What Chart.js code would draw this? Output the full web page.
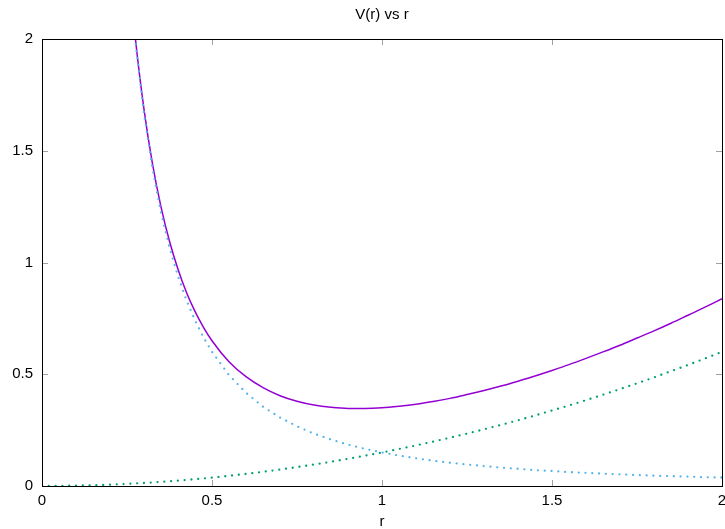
<!DOCTYPE html>
<html>
<head>
<meta charset="utf-8">
<script src="https://cdn.jsdelivr.net/npm/chart.js@4.4.1/dist/chart.umd.min.js"></script>
<style>
  html, body { margin: 0; padding: 0; background: #fff; }
  canvas { display: block; }
</style>
</head>
<body>
<canvas id="vChart" width="725" height="529"></canvas>
<script>
// values
const rFine = [0.25, 0.275, 0.3, 0.325, 0.35, 0.375, 0.4, 0.425, 0.45, 0.475, 0.5,
  0.55, 0.6, 0.65, 0.7, 0.75, 0.8, 0.85, 0.9, 0.95, 1.0, 1.05, 1.1, 1.15, 1.2, 1.25,
  1.3, 1.35, 1.4, 1.45, 1.5, 1.55, 1.6, 1.65, 1.7, 1.75, 1.8, 1.85, 1.9, 1.95, 2.0];
const vTotal = [2.41, 1.998, 1.685, 1.441, 1.249, 1.095, 0.970, 0.866, 0.781, 0.710, 0.650,
  0.556, 0.489, 0.440, 0.404, 0.379, 0.362, 0.352, 0.347, 0.347, 0.350, 0.357, 0.366, 0.378,
  0.392, 0.409, 0.427, 0.447, 0.469, 0.492, 0.517, 0.543, 0.571, 0.600, 0.630, 0.662, 0.694,
  0.728, 0.764, 0.800, 0.838];
const vRepulsive = [2.40, 1.983, 1.667, 1.420, 1.224, 1.067, 0.938, 0.830, 0.741, 0.665, 0.600,
  0.496, 0.417, 0.355, 0.306, 0.267, 0.234, 0.208, 0.185, 0.166, 0.150, 0.136, 0.124, 0.113,
  0.104, 0.096, 0.089, 0.082, 0.077, 0.071, 0.067, 0.062, 0.059, 0.055, 0.052, 0.049, 0.046,
  0.044, 0.042, 0.039, 0.038];
const rCoarse = [0, 0.05, 0.1, 0.15, 0.2, 0.25, 0.3, 0.35, 0.4, 0.45, 0.5, 0.55, 0.6, 0.65,
  0.7, 0.75, 0.8, 0.85, 0.9, 0.95, 1.0, 1.05, 1.1, 1.15, 1.2, 1.25, 1.3, 1.35, 1.4, 1.45, 1.5,
  1.55, 1.6, 1.65, 1.7, 1.75, 1.8, 1.85, 1.9, 1.95, 2.0];
const vHarmonic = [0, 0.0004, 0.0015, 0.0034, 0.006, 0.0094, 0.0135, 0.0184, 0.024, 0.0304,
  0.0375, 0.0454, 0.054, 0.0634, 0.0735, 0.0844, 0.096, 0.1084, 0.1215, 0.1354, 0.15, 0.1654,
  0.1815, 0.1984, 0.216, 0.2344, 0.2535, 0.2734, 0.294, 0.3154, 0.3375, 0.3604, 0.384, 0.4084,
  0.4335, 0.4594, 0.486, 0.5134, 0.5415, 0.5704, 0.6];
const tickValues = [0, 0.5, 1, 1.5, 2];

const toPoints = (xs, ys) => xs.map((x, i) => ({ x: x, y: ys[i] }));

// gnuplot style: inward ticks mirrored on all sides + black frame
const framePlugin = {
  id: 'frame',
  afterDatasetsDraw(chart) {
    const { ctx, chartArea: a, scales } = chart;
    const len = 6;
    ctx.save();
    ctx.strokeStyle = '#a0a0a0';
    ctx.lineWidth = 1;
    ctx.beginPath();
    tickValues.forEach(v => {
      const x = Math.round(scales.x.getPixelForValue(v)) + 0.5;
      ctx.moveTo(x, a.bottom);
      ctx.lineTo(x, a.bottom - len);
      ctx.moveTo(x, a.top);
      ctx.lineTo(x, a.top + len);
      const y = Math.round(scales.y.getPixelForValue(v)) + 0.5;
      ctx.moveTo(a.left, y);
      ctx.lineTo(a.left + len, y);
      ctx.moveTo(a.right, y);
      ctx.lineTo(a.right - len, y);
    });
    ctx.stroke();
    ctx.strokeStyle = '#000';
    ctx.strokeRect(Math.round(a.left) + 0.5, Math.round(a.top) + 0.5,
      Math.round(a.right - a.left), Math.round(a.bottom - a.top));
    ctx.restore();
  }
};

const family = '"Liberation Sans", Arial, sans-serif';
const font = { family: family, size: 15 };
const tickLabel = v => String(v);

new Chart(document.getElementById('vChart'), {
  type: 'line',
  data: {
    datasets: [
      {
        data: toPoints(rFine, vRepulsive),
        borderColor: '#56b4e9',
        borderWidth: 2.3,
        borderDash: [0, 6.8],
        borderCapStyle: 'round',
        pointRadius: 0,
        order: 0
      },
      {
        data: toPoints(rCoarse, vHarmonic),
        borderColor: '#009e73',
        borderWidth: 2.3,
        borderDash: [0, 6.8],
        borderCapStyle: 'round',
        pointRadius: 0,
        order: 1
      },
      {
        data: toPoints(rFine, vTotal),
        borderColor: '#9400d3',
        borderWidth: 1.5,
        pointRadius: 0,
        cubicInterpolationMode: 'monotone',
        order: 2
      }
    ]
  },
  options: {
    responsive: false,
    animation: false,
    layout: { padding: { left: 0, right: 3, top: 0, bottom: 0 } },
    plugins: {
      legend: { display: false },
      tooltip: { enabled: false },
      title: {
        display: true,
        fullSize: false,
        text: 'V(r) vs r',
        color: '#000',
        font: { family: family, size: 15, weight: 'normal' },
        padding: { top: 6, bottom: 15 }
      }
    },
    scales: {
      x: {
        type: 'linear',
        min: 0,
        max: 2,
        afterFit(scale) { scale.paddingRight = 0; scale.height = 43; },
        ticks: { stepSize: 0.5, color: '#000', font: font, padding: 6, maxRotation: 0, callback: tickLabel },
        grid: { display: false, drawTicks: false },
        border: { display: false },
        title: {
          display: true, text: 'r', color: '#000',
          font: { family: family, size: 15, lineHeight: 1 },
          padding: { top: 3, bottom: 0 }
        }
      },
      y: {
        type: 'linear',
        min: 0,
        max: 2,
        afterFit(scale) { scale.width = 42; },
        ticks: { stepSize: 0.5, color: '#000', font: font, padding: 9, callback: tickLabel },
        grid: { display: false, drawTicks: false },
        border: { display: false }
      }
    }
  },
  plugins: [framePlugin]
});
</script>
</body>
</html>
